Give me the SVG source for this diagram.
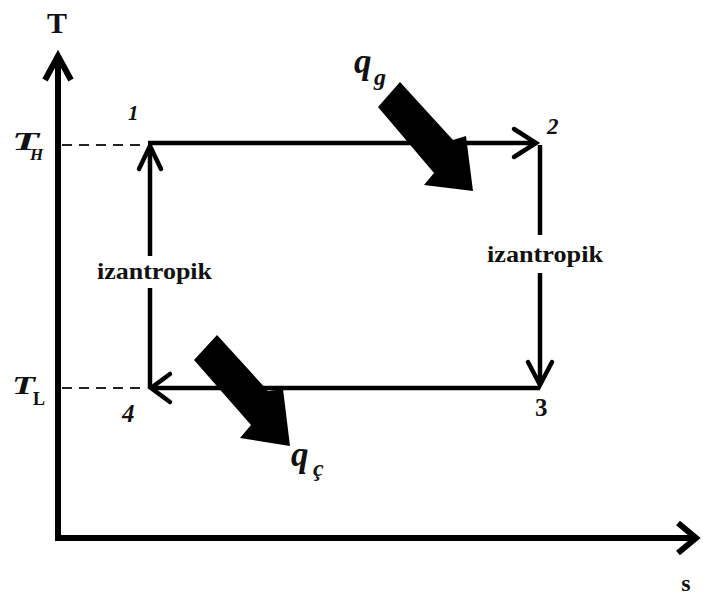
<svg xmlns="http://www.w3.org/2000/svg" width="703" height="598" viewBox="0 0 703 598">
<style>
.ax{fill:none;stroke:#000;stroke-width:6;stroke-linecap:butt;stroke-linejoin:miter}
.ln{fill:none;stroke:#000;stroke-width:4.5;stroke-linecap:butt;stroke-linejoin:miter}
.hd{fill:none;stroke:#000;stroke-width:4.5;stroke-linecap:round;stroke-linejoin:miter}
.dash{fill:none;stroke:#222;stroke-width:2;stroke-dasharray:10 7}
.big{fill:#000}
.t{font-family:"Liberation Serif","DejaVu Serif",serif;font-weight:bold;fill:#111}
.it{font-style:italic}
</style>
<rect width="703" height="598" fill="#fff"/>
<g id="axes">
  <polyline class="ax" points="58,541 58,56"/>
  <polyline class="ax" points="55,538 695,538"/>
  <polyline class="ax" points="45,80 58,56 71,80"/>
  <polyline class="ax" points="678,523 696,538 678,553"/>
  <text class="t" x="57" y="33" font-size="30" text-anchor="middle">T</text>
  <text class="t" x="686" y="591" font-size="24" text-anchor="middle">s</text>
</g>
<g id="levels">
  <line class="dash" x1="62" y1="145" x2="146" y2="145"/>
  <line class="dash" x1="62" y1="388" x2="146" y2="388"/>
  <g id="TH">
    <text class="t it" x="12" y="150" font-size="25" textLength="27" lengthAdjust="spacingAndGlyphs">T</text>
    <text class="t it" x="30" y="160" font-size="17">H</text>
  </g>
  <g id="TL">
    <text class="t it" x="12" y="394" font-size="25" textLength="23" lengthAdjust="spacingAndGlyphs">T</text>
    <text class="t" x="33" y="405" font-size="18">L</text>
  </g>
</g>
<g id="connectors">
  <g id="e12">
    <polyline class="ln" points="148,143 536,143"/>
    <polyline class="hd" points="514,129 536,143 514,157"/>
  </g>
  <g id="e23">
    <polyline class="ln" points="540,145 540,235"/>
    <polyline class="ln" points="540,273 540,384"/>
    <polyline class="hd" points="528,362 540,385 552,362"/>
  </g>
  <g id="e34">
    <polyline class="ln" points="540,388 152,388"/>
    <polyline class="hd" points="170,374 151,388 170,402"/>
  </g>
  <g id="e41">
    <polyline class="ln" points="150,388 150,288"/>
    <polyline class="ln" points="150,256 150,147"/>
    <polyline class="hd" points="139,169 150,146 161,169"/>
  </g>
</g>
<g id="labels-iso">
  <text class="t" x="154.5" y="279" font-size="24" text-anchor="middle" textLength="115" lengthAdjust="spacingAndGlyphs">izantropik</text>
  <text class="t" x="545" y="262" font-size="24" text-anchor="middle" textLength="116" lengthAdjust="spacingAndGlyphs">izantropik</text>
</g>
<g id="points">
  <text id="p1" class="t it" x="128" y="120" font-size="21">1</text>
  <text id="p2" class="t it" x="547" y="134" font-size="23">2</text>
  <text id="p3" class="t" x="535" y="416" font-size="25">3</text>
  <text id="p4" class="t it" x="122" y="422" font-size="25">4</text>
</g>
<g id="qg">
  <polygon class="big" points="400,82 453,140 466,136 473,191 424,185 434,173 378,107"/>
  <text class="t it" x="354" y="73" font-size="35">q</text>
  <text class="t it" x="374" y="85" font-size="24">g</text>
</g>
<g id="qc">
  <polygon class="big" points="217,335 268,391 283,389 290,446 240,438 251,425 194,360"/>
  <text class="t it" x="291" y="466" font-size="35">q</text>
  <text class="t it" x="313" y="476" font-size="24">ç</text>
</g>
</svg>
